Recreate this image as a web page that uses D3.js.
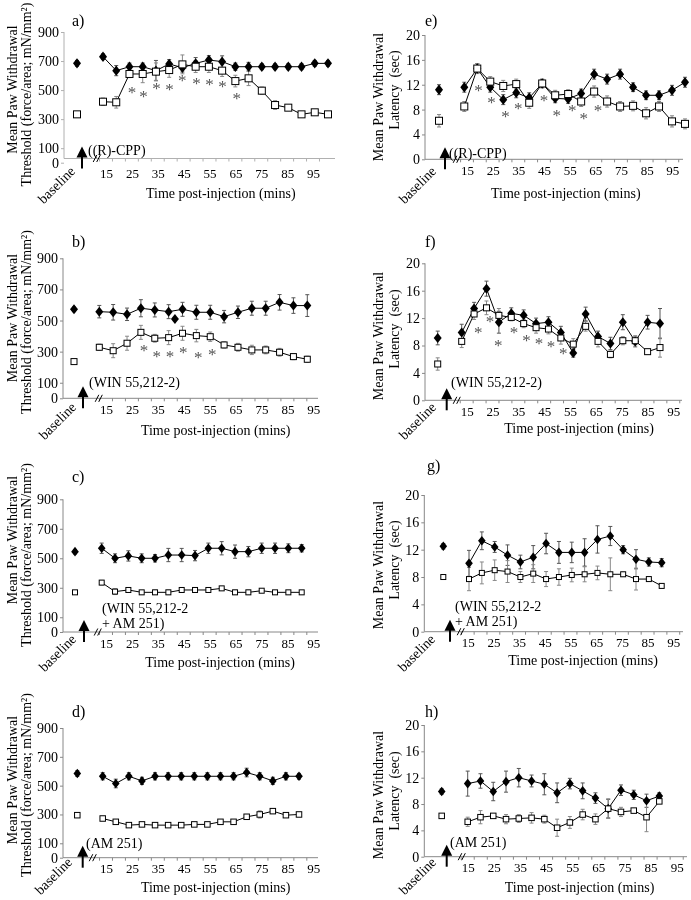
<!DOCTYPE html>
<html>
<head>
<meta charset="utf-8">
<script src="https://cdn.jsdelivr.net/npm/d3@7"></script>
<style>
  body { margin: 0; background: #fff; }
  svg { will-change: transform; }
</style>
</head>
<body>
<svg width="691" height="900" font-family="'Liberation Serif', 'DejaVu Serif', serif"></svg>
<script>
// AXIS TICKS
const thrTicks = [0, 100, 300, 500, 700, 900]
const latTicks = [0, 4, 8, 12, 16, 20]
const xTicks = [15, 25, 35, 45, 55, 65, 75, 85, 95]
const xMinor = [12.5, 17.5, 22.5, 27.5, 32.5, 37.5, 42.5, 47.5, 52.5, 57.5, 62.5, 67.5, 72.5, 77.5, 82.5, 87.5, 92.5, 97.5]

// TIME POINTS (mins)
const times90 = [15, 20, 25, 30, 35, 40, 45, 50, 55, 60, 65, 70, 75, 80, 85, 90]
const times95 = [15, 20, 25, 30, 35, 40, 45, 50, 55, 60, 65, 70, 75, 80, 85, 90, 95]
const times100 = [15, 20, 25, 30, 35, 40, 45, 50, 55, 60, 65, 70, 75, 80, 85, 90, 95, 100]

// a) (R)-CPP, threshold
const aBase = [684, 333]
const aBaseErr = [20, 0]
const aFilled = [730, 634, 661, 661, 634, 680, 654, 684, 707, 696, 661, 661, 661, 661, 661, 661, 684, 684]
const aFilledErr = [20, 35, 25, 25, 70, 30, 30, 40, 30, 40, 25, 30, 20, 20, 20, 20, 20, 20]
const aOpen = [420, 416, 611, 611, 627, 638, 677, 661, 661, 634, 562, 581, 496, 397, 379, 333, 347, 333]
const aOpenErr = [25, 40, 25, 60, 60, 50, 65, 40, 40, 40, 40, 50, 25, 30, 15, 15, 15, 15]
const aStarT = [25, 29.5, 34.5, 39.5, 44.5, 50, 55, 60, 65.5]
const aStarV = [505, 478, 535, 528, 588, 569, 558, 546, 466]

// b) WIN 55,212-2, threshold
const bBase = [572, 236]
const bBaseErr = [15, 0]
const bFilled = [557, 553, 540, 579, 568, 557, 572, 553, 553, 525, 553, 579, 579, 617, 596, 596]
const bFilledErr = [40, 50, 40, 55, 45, 45, 45, 45, 45, 40, 40, 45, 45, 50, 50, 70]
const bOpen = [328, 306, 354, 424, 386, 390, 418, 403, 396, 343, 328, 311, 311, 296, 268, 251]
const bOpenErr = [20, 45, 45, 45, 25, 45, 45, 40, 30, 20, 25, 30, 25, 25, 20, 20]
const bStarT = [29.7, 34.6, 39.7, 44.8, 50.6, 56]
const bStarV = [326, 289, 289, 311, 279, 304]
const bStray = [[41.6, 510]]

// c) WIN 55,212-2 + AM 251, threshold
const cBase = [545, 269]
const cBaseErr = [15, 0]
const cFilled = [568, 500, 516, 500, 500, 522, 522, 518, 568, 568, 545, 545, 568, 568, 568, 568]
const cFilledErr = [35, 30, 35, 30, 25, 45, 45, 35, 35, 45, 45, 35, 35, 35, 30, 25]
const cOpen = [335, 274, 285, 269, 269, 269, 285, 285, 285, 296, 269, 269, 280, 269, 269, 269]
const cOpenErr = [15, 20, 10, 10, 15, 15, 15, 15, 15, 10, 15, 15, 10, 10, 10, 10]

// d) AM 251, threshold
const dBase = [584, 295]
const dBaseErr = [20, 0]
const dFilled = [565, 515, 565, 533, 565, 565, 565, 565, 565, 565, 565, 591, 565, 533, 565, 565]
const dFilledErr = [25, 30, 25, 25, 25, 25, 25, 25, 25, 25, 25, 30, 25, 25, 25, 20]
const dOpen = [272, 249, 226, 231, 226, 226, 226, 231, 231, 249, 249, 284, 300, 323, 295, 300]
const dOpenErr = [10, 5, 5, 5, 5, 5, 5, 5, 5, 5, 5, 15, 25, 15, 10, 8]

// e) (R)-CPP, latency
const eBase = [11.2, 6.2]
const eBaseErr = [0.8, 1.0]
const eFilled = [11.6, 14.6, 11.6, 9.6, 10.7, 9.9, 12.2, 9.8, 9.7, 10.6, 13.7, 12.9, 13.7, 11.6, 10.3, 10.3, 11.1, 12.4]
const eFilledErr = [0.8, 0.8, 0.8, 0.8, 0.8, 0.8, 0.7, 0.7, 0.7, 0.7, 0.8, 0.8, 0.8, 0.7, 0.7, 0.7, 0.8, 0.8]
const eOpen = [8.5, 14.6, 12.5, 11.8, 12.1, 9.1, 12.2, 10.3, 10.5, 9.3, 10.9, 9.3, 8.5, 8.6, 7.4, 8.5, 6.1, 5.7]
const eOpenErr = [0.8, 0.8, 0.8, 0.9, 0.8, 0.9, 0.6, 0.8, 0.7, 0.8, 0.9, 0.9, 0.8, 0.8, 0.9, 0.8, 0.9, 0.8]
const eStarT = [19.5, 24.5, 30, 35, 45, 50, 56, 60.5, 66]
const eStarV = [11.6, 9.6, 7.4, 8.6, 9.9, 7.5, 8.4, 7, 8.4]

// f) WIN 55,212-2, latency
const fBase = [9.1, 5.3]
const fBaseErr = [1.0, 0.9]
const fFilled = [9.9, 13.4, 16.3, 11.4, 12.7, 12.4, 11.2, 11.4, 9.9, 6.9, 12.6, 9.3, 8.3, 11.4, 8.6, 11.4, 11.2]
const fFilledErr = [1.2, 0.9, 1.1, 1.6, 0.8, 0.8, 0.8, 0.8, 0.9, 0.6, 1.0, 0.8, 0.9, 1.1, 0.8, 1.0, 2.2]
const fOpen = [8.6, 12.6, 13.5, 12.4, 12.1, 11.2, 10.6, 10.4, 9.1, 8.2, 10.8, 8.6, 6.7, 8.7, 8.7, 7.1, 7.7]
const fOpenErr = [0.9, 0.8, 1.0, 1.0, 0.5, 0.6, 0.8, 0.7, 0.9, 0.8, 0.7, 0.8, 0.5, 0.6, 0.6, 0.3, 1.4]
const fStarT = [19.5, 24, 27.2, 33.3, 38.2, 43, 47.6, 52.4]
const fStarV = [10.3, 11.9, 8.5, 10.3, 9.1, 8.7, 8.3, 7.2]

// g) WIN 55,212-2 + AM 251, latency
const gBase = [12.5, 8]
const gBaseErr = [0.4, 0]
const gFilled = [10, 13.3, 12.4, 11.2, 10.2, 10.9, 12.9, 11.6, 11.6, 11.6, 13.5, 14, 12, 10.6, 10.2, 10.1]
const gFilledErr = [1.9, 1.3, 0.8, 1.5, 1.0, 1.7, 1.5, 1.6, 1.5, 2.0, 2.0, 1.4, 0.6, 1.4, 0.6, 0.6]
const gOpen = [7.7, 8.6, 9, 8.8, 8, 8.5, 7.7, 8, 8.3, 8.4, 8.6, 8.4, 8.4, 7.7, 7.7, 6.7]
const gOpenErr = [1.7, 1.6, 1.5, 1.6, 0.8, 1.3, 1.1, 1.2, 1.0, 1.1, 1.0, 2.4, 0.3, 1.6, 0.3, 0.3]

// h) AM 251, latency
const hBase = [9.9, 6.2]
const hBaseErr = [0.4, 0]
const hFilled = [11.1, 11.5, 9.9, 11.4, 12, 11.5, 11, 9.7, 11.1, 10, 8.9, 7.3, 10.1, 9.4, 8.5, 9.2]
const hFilledErr = [1.9, 1.1, 1.4, 1.6, 1.4, 0.9, 1.6, 1.5, 0.8, 1.2, 0.8, 1.4, 0.8, 0.7, 1.0, 0.5]
const hOpen = [5.3, 6, 6.2, 5.7, 5.8, 5.9, 5.7, 4.4, 5.2, 6.4, 5.7, 7.3, 6.8, 7, 6, 8.4]
const hOpenErr = [0.7, 1.0, 0.3, 0.7, 0.6, 0.8, 0.6, 1.3, 0.9, 0.8, 0.8, 1.5, 0.7, 0.3, 2.2, 0.3]

const thrLabel = ['Mean Paw Withdrawal', 'Threshold (force/area; mN/mm\u00b2)']
const latLabel = ['Mean Paw Withdrawal', 'Latency\u00a0\u00a0(sec)']

const panels = [
  {key: 'a)', kind: 'thr', times: times100, base: aBase, baseErr: aBaseErr, filled: aFilled, filledErr: aFilledErr, open: aOpen, openErr: aOpenErr, starT: aStarT, starV: aStarV, drug: ['((R)-CPP)'],
   L: {ax: 64, xEnd: 335, yTop: 32, y0: 162.7, axisY: 158.5, tickY: 173, t15: 106, t95: 313, p0: 103, p1: 328, baseX: 77, arrowX: 82, breakX: 95, bl: [76, 172], letter: [72, 20], drug: [88, 150], yl: [12, 89.5, 26.5, 94.5], title: [220.8, 193], sq: 7, dia: [4, 5.2], axis: '#b0b0b0'}},
  {key: 'b)', kind: 'thr', times: times90, base: bBase, baseErr: bBaseErr, filled: bFilled, filledErr: bFilledErr, open: bOpen, openErr: bOpenErr, starT: bStarT, starV: bStarV, stray: bStray, drug: ['(WIN 55,212-2)'],
   L: {ax: 63, xEnd: 318, yTop: 258.3, y0: 398.3, t15: 106, t95: 313.3, p0: 99.3, p1: 307.3, baseX: 74, arrowX: 83, breakX: 97, bl: [77, 408], letter: [72, 241.7], drug: [89, 381.7], yl: [12, 318, 26.5, 322], title: [215.7, 430], sq: 6, dia: [4, 5], axis: '#888'}},
  {key: 'c)', kind: 'thr', times: times90, base: cBase, baseErr: cBaseErr, filled: cFilled, filledErr: cFilledErr, open: cOpen, openErr: cOpenErr, starT: [], starV: [], drug: ['(WIN 55,212-2', '+ AM 251)'],
   L: {ax: 63, xEnd: 318, yTop: 499.3, y0: 632, t15: 106, t95: 313.3, p0: 101.7, p1: 301.7, baseX: 75, arrowX: 84, breakX: 96, bl: [77, 640], letter: [72, 476], drug: [102, 607.7], yl: [12, 540, 26.5, 555], title: [220, 662], sq: 5, dia: [3.8, 4.8], axis: '#888'}},
  {key: 'd)', kind: 'thr', times: times90, base: dBase, baseErr: dBaseErr, filled: dFilled, filledErr: dFilledErr, open: dOpen, openErr: dOpenErr, starT: [], starV: [], drug: ['(AM 251)'],
   L: {ax: 63, xEnd: 318, yTop: 728, y0: 857.7, t15: 106, t95: 313.3, p0: 102.7, p1: 299, baseX: 77.3, arrowX: 82.7, breakX: 91, bl: [73, 863], letter: [72, 711.7], drug: [86, 843.3], yl: [12, 780, 26.5, 785], title: [215.7, 886.7], sq: 5.5, dia: [3.8, 4.8], axis: '#888'}},
  {key: 'e)', kind: 'lat', times: times100, base: eBase, baseErr: eBaseErr, filled: eFilled, filledErr: eFilledErr, open: eOpen, openErr: eOpenErr, starT: eStarT, starV: eStarV, drug: ['((R)-CPP)'],
   L: {ax: 425, xEnd: 683, yTop: 35, y0: 159.3, t15: 467, t95: 672.3, p0: 464.3, p1: 685, baseX: 439, arrowX: 445, breakX: 455, bl: [437, 172], letter: [425, 20], drug: [449, 153], yl: [378, 97, 394, 90], title: [565.8, 193], sq: 7, dia: [4, 5.2], axis: '#888'}},
  {key: 'f)', kind: 'lat', times: times95, base: fBase, baseErr: fBaseErr, filled: fFilled, filledErr: fFilledErr, open: fOpen, openErr: fOpenErr, starT: fStarT, starV: fStarV, drug: ['(WIN 55,212-2)'],
   L: {ax: 425, xEnd: 682, yTop: 263.3, y0: 400.3, t15: 466.7, t95: 673.3, p0: 461.7, p1: 660, baseX: 437.7, arrowX: 446.7, breakX: 455, bl: [437, 408], letter: [425, 241.7], drug: [451, 381.7], yl: [378, 336, 394, 329], title: [579, 428.3], sq: 6, dia: [4, 5], axis: '#888'}},
  {key: 'g)', kind: 'lat', times: times90, base: gBase, baseErr: gBaseErr, filled: gFilled, filledErr: gFilledErr, open: gOpen, openErr: gOpenErr, starT: [], starV: [], drug: ['(WIN 55,212-2', '+ AM 251)'],
   L: {ax: 424.3, xEnd: 683, yTop: 495, y0: 631.7, t15: 467.7, t95: 673.3, p0: 469, p1: 661.7, baseX: 443.3, arrowX: 450, breakX: 459, bl: [436, 640], letter: [427, 465], drug: [455, 605.7], yl: [378, 565, 394, 560], title: [583, 660], sq: 5, dia: [3.8, 4.8], axis: '#888'}},
  {key: 'h)', kind: 'lat', times: times90, base: hBase, baseErr: hBaseErr, filled: hFilled, filledErr: hFilledErr, open: hOpen, openErr: hOpenErr, starT: [], starV: [], drug: ['(AM 251)'],
   L: {ax: 424.3, xEnd: 687, yTop: 725, y0: 856.7, t15: 467.7, t95: 676.7, p0: 467.7, p1: 659.3, baseX: 441.7, arrowX: 446.7, breakX: 460, bl: [437, 863], letter: [425, 711.7], drug: [450, 841.7], yl: [378, 795, 394, 791], title: [579.5, 886.7], sq: 5.5, dia: [3.8, 4.8], axis: '#888'}}
]

const svg = d3.select('svg')
const FONT = "'Liberation Serif', 'DejaVu Serif', serif"

const diamond = (x, y, w, h) => `M${x},${y - h}L${x + w},${y}L${x},${y + h}L${x - w},${y}Z`

const render = p => {
  const L = p.L
  const axisY = L.axisY || L.y0
  const tickY = L.tickY || L.y0 + 11
  const yScale = d3.scaleLinear()
    .domain([0, p.kind === 'thr' ? 900 : 20])
    .range([L.y0, L.yTop])
  const xTick = d3.scaleLinear()
    .domain([15, 95])
    .range([L.t15, L.t95])
  const xPt = d3.scalePoint()
    .domain(p.times)
    .range([L.p0, L.p1])

  const g = svg.append('g').attr('font-family', FONT)

  //AXES
  g.append('g')
    .attr('transform', `translate(${L.ax},0)`)
    .call(d3.axisLeft(yScale).tickValues(p.kind === 'thr' ? thrTicks : latTicks).tickSize(3).tickSizeOuter(0).tickPadding(2))
    .attr('font-family', FONT).attr('font-size', 14)
    .call(a => a.selectAll('path, line').attr('stroke', L.axis))
    .call(a => a.select('.domain').attr('d', `M0,${axisY}V${L.yTop}`))

  g.append('line')
    .attr('x1', L.ax).attr('x2', L.xEnd)
    .attr('y1', axisY).attr('y2', axisY)
    .attr('stroke', L.axis)

  // small ticks under the time axis
  g.selectAll(null)
    .data(xMinor.filter(t => xTick(t) < L.xEnd - 2))
    .enter().append('line')
      .attr('x1', d => xTick(d)).attr('x2', d => xTick(d))
      .attr('y1', axisY).attr('y2', axisY + 3)
      .attr('stroke', L.axis)

  g.append('g')
    .attr('transform', `translate(0,${tickY})`)
    .call(d3.axisBottom(xTick).tickValues(xTicks).tickSize(0).tickPadding(0))
    .attr('font-family', FONT).attr('font-size', 13)
    .call(a => a.select('.domain').remove())
    .call(a => a.selectAll('text').attr('dy', '0.35em'))

  // axis texts
  const lab = p.kind === 'thr' ? thrLabel : latLabel
  ;[0, 1].forEach(i => {
    g.append('text')
      .text(lab[i])
      .attr('transform', `translate(${L.yl[i * 2]},${L.yl[i * 2 + 1]}) rotate(-90)`)
      .attr('text-anchor', 'middle')
      .attr('dy', '0.35em')
      .attr('font-size', 14)
  })

  g.append('text')
    .text('Time post-injection (mins)')
    .attr('x', L.title[0]).attr('y', L.title[1])
    .attr('text-anchor', 'middle')
    .attr('dy', '0.35em')
    .attr('font-size', 14)

  g.append('text')
    .text('baseline')
    .attr('transform', `translate(${L.bl[0]},${L.bl[1]}) rotate(-45)`)
    .attr('text-anchor', 'end')
    .attr('font-size', 14)

  g.append('text')
    .text(p.key)
    .attr('x', L.letter[0]).attr('y', L.letter[1])
    .attr('dy', '0.35em')
    .attr('font-size', 16)

  p.drug.forEach((t, i) => {
    g.append('text')
      .text(t)
      .attr('x', L.drug[0]).attr('y', L.drug[1] + i * 15)
      .attr('dy', '0.35em')
      .attr('font-size', 14)
  })

  // injection arrow + axis break
  const ax0 = L.arrowX
  g.append('path')
    .attr('d', `M${ax0},${axisY - 12}L${ax0 + 5.5},${axisY - 1}L${ax0 - 5.5},${axisY - 1}Z`)
    .attr('fill', '#000')
  g.append('line')
    .attr('x1', ax0).attr('x2', ax0)
    .attr('y1', axisY - 2).attr('y2', axisY + 10)
    .attr('stroke', '#000').attr('stroke-width', 2)
  ;[0, 3.5].forEach(dx => {
    g.append('line')
      .attr('x1', L.breakX + dx - 1.8).attr('y1', axisY + 3.5)
      .attr('x2', L.breakX + dx + 1.8).attr('y2', axisY - 3.5)
      .attr('stroke', '#000')
  })

  //DATA
  const pts = (vals, errs, b) => [{x: L.baseX, v: p.base[b], e: p.baseErr[b], base: true}]
    .concat(vals.map((v, i) => ({x: xPt(p.times[i]), v: v, e: errs[i]})))
  const filled = pts(p.filled, p.filledErr, 0)
  const open = pts(p.open, p.openErr, 1)

  const errBars = (data, color) => {
    const eg = g.append('g').attr('stroke', color).attr('stroke-width', 1)
    data.filter(d => d.e > 0).forEach(d => {
      const y1 = yScale(d.v + d.e)
      const y2 = yScale(d.v - d.e)
      eg.append('line').attr('x1', d.x).attr('x2', d.x).attr('y1', y1).attr('y2', y2)
      eg.append('line').attr('x1', d.x - 2).attr('x2', d.x + 2).attr('y1', y1).attr('y2', y1)
      eg.append('line').attr('x1', d.x - 2).attr('x2', d.x + 2).attr('y1', y2).attr('y2', y2)
    })
  }
  errBars(filled, '#555')
  errBars(open, '#888')

  const line = d3.line().x(d => d.x).y(d => yScale(d.v))

  g.append('path')
    .attr('d', line(filled.filter(d => !d.base)))
    .attr('fill', 'none').attr('stroke', '#000').attr('stroke-width', 1)

  g.selectAll(null)
    .data(filled.concat((p.stray || []).map(s => ({x: xTick(s[0]), v: s[1]}))))
    .enter().append('path')
      .attr('d', d => diamond(d.x, yScale(d.v), L.dia[0], L.dia[1]))
      .attr('fill', '#000')

  g.append('path')
    .attr('d', line(open.filter(d => !d.base)))
    .attr('fill', 'none').attr('stroke', '#000').attr('stroke-width', 1)

  g.selectAll(null)
    .data(open)
    .enter().append('rect')
      .attr('x', d => d.x - L.sq / 2)
      .attr('y', d => yScale(d.v) - L.sq / 2)
      .attr('width', L.sq).attr('height', L.sq)
      .attr('fill', '#fff').attr('stroke', '#000').attr('stroke-width', 1)

  // significance
  g.append('g')
    .selectAll('text')
    .data(p.starT)
    .enter().append('text')
      .text('*')
      .attr('x', d => xTick(d))
      .attr('y', (d, i) => yScale(p.starV[i]))
      .attr('dy', '0.5em')
      .attr('text-anchor', 'middle')
      .attr('font-size', 17)
      .attr('fill', '#555')
}

panels.forEach(render)
</script>
</body>
</html>
